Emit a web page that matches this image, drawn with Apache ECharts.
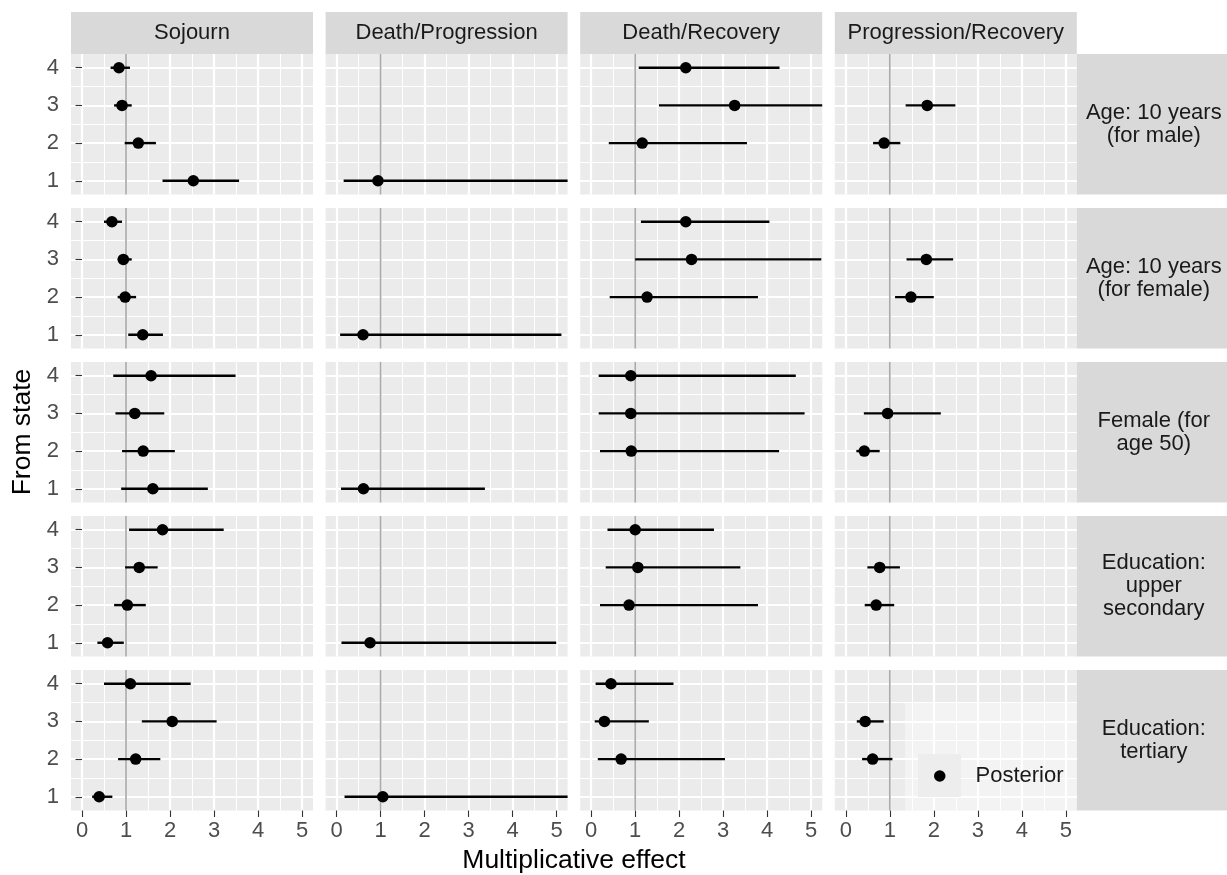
<!DOCTYPE html>
<html><head><meta charset="utf-8">
<script src="https://cdn.jsdelivr.net/npm/echarts@6/dist/echarts.min.js"></script>
<style>html,body{margin:0;padding:0;background:#fff}#c{width:1227px;height:875px}</style>
</head><body><div id="c"></div>
<script>
// ---------- data ----------
const transitions = ['Sojourn', 'Death/Progression', 'Death/Recovery', 'Progression/Recovery'];
const covariates = ['Age: 10 years\n(for male)', 'Age: 10 years\n(for female)', 'Female (for\nage 50)', 'Education:\nupper\nsecondary', 'Education:\ntertiary'];
const xBreaks = [0, 1, 2, 3, 4, 5];
const xMinorBreaks = [0.5, 1.5, 2.5, 3.5, 4.5];
const stateBreaks = [1, 2, 3, 4];
const stateMinorBreaks = [1.5, 2.5, 3.5];
const referenceEffect = 1;
const seriesName = 'Posterior';

// rows: [transition, fromState, posterior, lower, upper]
const ageMale = [
  ['Sojourn', 4, 0.84, 0.65, 1.09],
  ['Sojourn', 3, 0.91, 0.73, 1.13],
  ['Sojourn', 2, 1.28, 0.97, 1.68],
  ['Sojourn', 1, 2.53, 1.83, 3.57],
  ['Death/Progression', 1, 0.94, 0.16, 6.5],
  ['Death/Recovery', 4, 2.15, 1.08, 4.28],
  ['Death/Recovery', 3, 3.26, 1.54, 5.9],
  ['Death/Recovery', 2, 1.16, 0.40, 3.54],
  ['Progression/Recovery', 3, 1.85, 1.36, 2.49],
  ['Progression/Recovery', 2, 0.87, 0.62, 1.24]
];
const ageFemale = [
  ['Sojourn', 4, 0.68, 0.50, 0.91],
  ['Sojourn', 3, 0.94, 0.81, 1.13],
  ['Sojourn', 2, 0.98, 0.81, 1.23],
  ['Sojourn', 1, 1.38, 1.05, 1.84],
  ['Death/Progression', 1, 0.60, 0.08, 5.11],
  ['Death/Recovery', 4, 2.15, 1.13, 4.05],
  ['Death/Recovery', 3, 2.28, 1.00, 5.23],
  ['Death/Recovery', 2, 1.27, 0.42, 3.79],
  ['Progression/Recovery', 3, 1.83, 1.38, 2.44],
  ['Progression/Recovery', 2, 1.48, 1.12, 2.00]
];
const female = [
  ['Sojourn', 4, 1.57, 0.71, 3.49],
  ['Sojourn', 3, 1.20, 0.76, 1.87],
  ['Sojourn', 2, 1.39, 0.91, 2.11],
  ['Sojourn', 1, 1.61, 0.89, 2.86],
  ['Death/Progression', 1, 0.61, 0.10, 3.37],
  ['Death/Recovery', 4, 0.90, 0.17, 4.65],
  ['Death/Recovery', 3, 0.90, 0.17, 4.85],
  ['Death/Recovery', 2, 0.91, 0.20, 4.27],
  ['Progression/Recovery', 3, 0.95, 0.41, 2.16],
  ['Progression/Recovery', 2, 0.42, 0.24, 0.77]
];
const eduUpperSecondary = [
  ['Sojourn', 4, 1.83, 1.07, 3.22],
  ['Sojourn', 3, 1.30, 0.98, 1.72],
  ['Sojourn', 2, 1.03, 0.73, 1.45],
  ['Sojourn', 1, 0.58, 0.35, 0.95],
  ['Death/Progression', 1, 0.76, 0.11, 4.99],
  ['Death/Recovery', 4, 1.00, 0.37, 2.79],
  ['Death/Recovery', 3, 1.06, 0.33, 3.39],
  ['Death/Recovery', 2, 0.86, 0.20, 3.79],
  ['Progression/Recovery', 3, 0.77, 0.49, 1.23],
  ['Progression/Recovery', 2, 0.69, 0.43, 1.10]
];
const eduTertiary = [
  ['Sojourn', 4, 1.10, 0.50, 2.47],
  ['Sojourn', 3, 2.05, 1.36, 3.06],
  ['Sojourn', 2, 1.22, 0.82, 1.78],
  ['Sojourn', 1, 0.39, 0.23, 0.69],
  ['Death/Progression', 1, 1.05, 0.18, 6.3],
  ['Death/Recovery', 4, 0.45, 0.10, 1.87],
  ['Death/Recovery', 3, 0.30, 0.08, 1.31],
  ['Death/Recovery', 2, 0.68, 0.15, 3.04],
  ['Progression/Recovery', 3, 0.44, 0.25, 0.86],
  ['Progression/Recovery', 2, 0.61, 0.37, 1.06]
];
const covariateData = [ageMale, ageFemale, female, eduUpperSecondary, eduTertiary];

// ---------- layout / style ----------
const L = { left: 71, top: 54, w: 242, h: 140.5, colPitch: 254.6, rowPitch: 154, stripTop: 12, stripH: 42, rightEdge: 1227 };
const X_MIN = -0.25, X_MAX = 5.25, Y_MIN = 0.635, Y_MAX = 4.365;
const FONT = "'Liberation Sans', Arial, Helvetica, sans-serif";
const TICK_FS = 22, STRIP_FS = 22, TITLE_FS = 26.5;

const grid = [], xAxis = [], yAxis = [], series = [], graphic = [];

covariates.forEach((cov, r) => {
  transitions.forEach((tr, c) => {
    const g = r * transitions.length + c;
    const isBottom = r === covariates.length - 1;
    const isLeft = c === 0;
    grid.push({
      left: L.left + c * L.colPitch, top: L.top + r * L.rowPitch, width: L.w, height: L.h,
      show: true, backgroundColor: '#EBEBEB', borderWidth: 0
    });
    xAxis.push({
      type: 'value', gridIndex: g, min: X_MIN, max: X_MAX, position: 'bottom',
      axisLine: { show: false },
      axisTick: { show: isBottom, customValues: xBreaks, length: 6.5, lineStyle: { color: '#333333', width: 1.1 } },
      axisLabel: { show: isBottom, customValues: xBreaks, color: '#4D4D4D', fontSize: TICK_FS, fontFamily: FONT, margin: 9 },
      splitLine: { show: true, lineStyle: { color: '#FFFFFF', width: 2.2 } }
    });
    xAxis.push({
      type: 'value', gridIndex: g, min: X_MIN, max: X_MAX, position: 'top',
      axisLine: { show: false },
      axisTick: { show: false, customValues: xMinorBreaks },
      axisLabel: { show: false, customValues: xMinorBreaks },
      splitLine: { show: true, lineStyle: { color: '#FFFFFF', width: 1.1 } }
    });
    yAxis.push({
      type: 'value', gridIndex: g, min: Y_MIN, max: Y_MAX, position: 'left',
      axisLine: { show: false },
      axisTick: { show: isLeft, customValues: stateBreaks, length: 6.5, lineStyle: { color: '#333333', width: 1.1 } },
      axisLabel: { show: isLeft, customValues: stateBreaks, color: '#4D4D4D', fontSize: TICK_FS, fontFamily: FONT, margin: 12 },
      splitLine: { show: true, lineStyle: { color: '#FFFFFF', width: 2.2 } }
    });
    yAxis.push({
      type: 'value', gridIndex: g, min: Y_MIN, max: Y_MAX, position: 'right',
      axisLine: { show: false },
      axisTick: { show: false, customValues: stateMinorBreaks },
      axisLabel: { show: false, customValues: stateMinorBreaks },
      splitLine: { show: true, lineStyle: { color: '#FFFFFF', width: 1.1 } }
    });

    const rows = covariateData[r].filter(d => d[0] === tr);
    const xi = 2 * g, yi = 2 * g;

    series.push({
      type: 'custom', xAxisIndex: xi, yAxisIndex: yi, z: 1, silent: true,
      data: [[referenceEffect]],
      renderItem: (params, api) => {
        const cs = params.coordSys;
        const x = api.coord([api.value(0), (Y_MIN + Y_MAX) / 2])[0];
        return { type: 'line', shape: { x1: x, y1: cs.y, x2: x, y2: cs.y + cs.height },
          style: { stroke: '#ABABAB', lineWidth: 1.7 } };
      }
    });
    series.push({
      type: 'custom', xAxisIndex: xi, yAxisIndex: yi, z: 2, silent: true,
      encode: { x: [0, 1], y: 2 },
      data: rows.map(d => [d[3], d[4], d[1]]),
      renderItem: (params, api) => {
        const cs = params.coordSys;
        const p1 = api.coord([api.value(0), api.value(2)]);
        const p2 = api.coord([api.value(1), api.value(2)]);
        const clamp = v => Math.max(cs.x, Math.min(cs.x + cs.width, v));
        return { type: 'line', shape: { x1: clamp(p1[0]), y1: p1[1], x2: clamp(p2[0]), y2: p2[1] },
          style: { stroke: '#000000', lineWidth: 2.4 } };
      }
    });
    series.push({
      type: 'scatter', name: seriesName, xAxisIndex: xi, yAxisIndex: yi, z: 3,
      symbol: 'circle', symbolSize: 11.5, itemStyle: { color: '#000000', opacity: 1 },
      data: rows.map(d => [d[2], d[1]])
    });
  });
});

transitions.forEach((tr, c) => {
  const x = L.left + c * L.colPitch;
  graphic.push({ type: 'rect', z: 0, shape: { x: x, y: L.stripTop, width: L.w, height: L.stripH }, style: { fill: '#D9D9D9' } });
  graphic.push({ type: 'text', z: 1, x: x + L.w / 2, y: L.stripTop + L.stripH / 2,
    style: { text: tr, fill: '#1A1A1A', fontSize: STRIP_FS, fontFamily: FONT, align: 'center', verticalAlign: 'middle' } });
});
const stripX = L.left + (transitions.length - 1) * L.colPitch + L.w;
covariates.forEach((cov, r) => {
  const y = L.top + r * L.rowPitch;
  graphic.push({ type: 'rect', z: 0, shape: { x: stripX, y: y, width: L.rightEdge - stripX, height: L.h }, style: { fill: '#D9D9D9' } });
  graphic.push({ type: 'text', z: 1, x: stripX + 77, y: y + L.h / 2,
    style: { text: cov, fill: '#1A1A1A', fontSize: STRIP_FS, fontFamily: FONT, align: 'center', verticalAlign: 'middle', lineHeight: 23 } });
});
graphic.push({ type: 'text', z: 1, x: 23, y: 432, rotation: Math.PI / 2,
  style: { text: 'From state', fill: '#000000', fontSize: TITLE_FS, fontFamily: FONT, align: 'center', verticalAlign: 'middle' } });
graphic.push({ type: 'text', z: 1, x: 574, y: 861,
  style: { text: 'Multiplicative effect', fill: '#000000', fontSize: TITLE_FS, fontFamily: FONT, align: 'center', verticalAlign: 'middle' } });
const lastPanelRight = stripX, lastPanelBottom = L.top + 4 * L.rowPitch + L.h;
graphic.push({ type: 'rect', z: 3, shape: { x: 905, y: 702, width: lastPanelRight - 905, height: lastPanelBottom - 702 }, style: { fill: 'rgba(255,255,255,0.42)' } });
graphic.push({ type: 'rect', z: 3, shape: { x: 918, y: 754, width: 43, height: 43 }, style: { fill: '#EDEDED' } });

const chart = echarts.init(document.getElementById('c'), null, { renderer: 'canvas' });
chart.setOption({
  animation: false,
  backgroundColor: '#FFFFFF',
  grid, xAxis, yAxis, series, graphic,
  legend: {
    data: [seriesName], left: 929, top: 760, itemWidth: 11.5, itemHeight: 11.5, icon: 'circle',
    selectedMode: false, z: 10, itemStyle: { color: '#000000', opacity: 1 },
    textStyle: { fontSize: TICK_FS, color: '#1A1A1A', fontFamily: FONT, padding: [0, 0, 0, 25] }
  }
});
</script></body></html>
